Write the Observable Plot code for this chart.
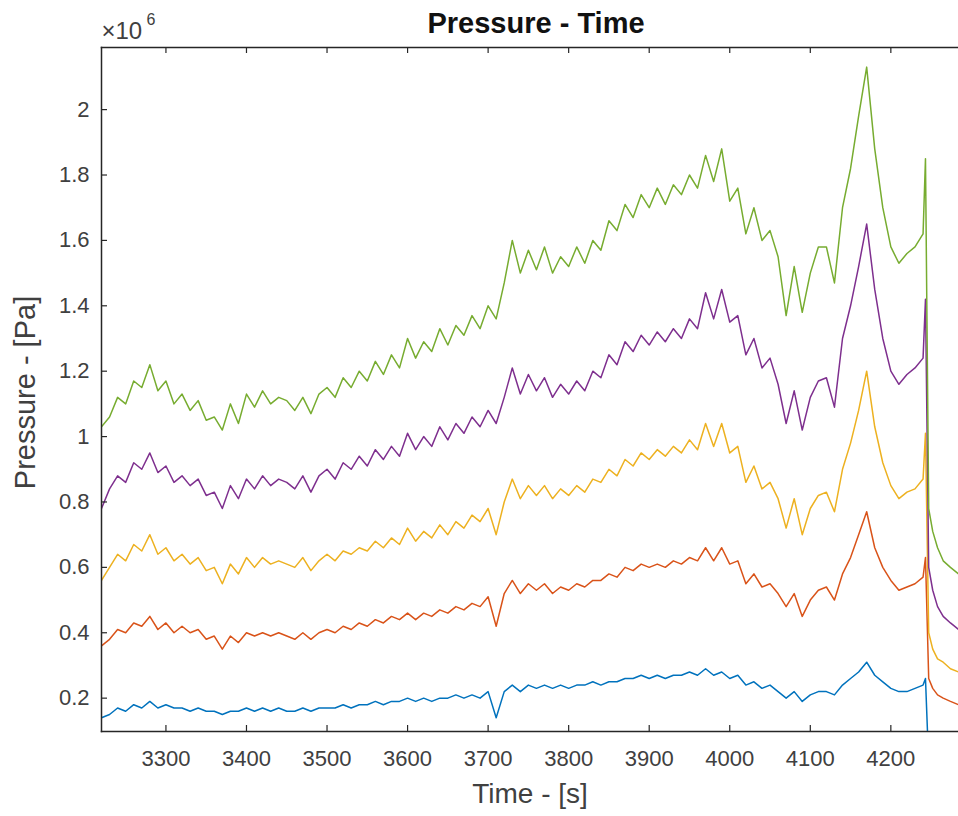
<!DOCTYPE html>
<html><head><meta charset="utf-8">
<script src="https://cdn.jsdelivr.net/npm/d3@7"></script>
<script src="https://cdn.jsdelivr.net/npm/@observablehq/plot@0.6"></script>
<style>html,body{margin:0;padding:0;background:#fff;} svg{display:block}</style>
</head><body><div id="chart"></div>
<script>
// time [s]
const time = [
 3220,3230,3240,3250,3260,3270,3280,3290,3300,3310,
 3320,3330,3340,3350,3360,3370,3380,3390,3400,3410,
 3420,3430,3440,3450,3460,3470,3480,3490,3500,3510,
 3520,3530,3540,3550,3560,3570,3580,3590,3600,3610,
 3620,3630,3640,3650,3660,3670,3680,3690,3700,3710,
 3720,3730,3740,3750,3760,3770,3780,3790,3800,3810,
 3820,3830,3840,3850,3860,3870,3880,3890,3900,3910,
 3920,3930,3940,3950,3960,3970,3980,3990,4000,4010,
 4020,4030,4040,4050,4060,4070,4080,4090,4100,4110,
 4120,4130,4140,4150,4160,4170,4180,4190,4200,4210,
 4220,4230,4240,
 4243,4247,4252,4258,4265,4274,4284
];
// pressure, x 10^6 Pa
const pBlue = [
 0.14,0.15,0.17,0.16,0.18,0.17,0.19,0.17,0.18,0.17,
 0.17,0.16,0.17,0.16,0.16,0.15,0.16,0.16,0.17,0.16,
 0.17,0.16,0.17,0.16,0.16,0.17,0.16,0.17,0.17,0.17,
 0.18,0.17,0.18,0.18,0.19,0.18,0.19,0.19,0.20,0.19,
 0.20,0.19,0.20,0.20,0.21,0.20,0.21,0.20,0.22,0.14,
 0.22,0.24,0.22,0.24,0.23,0.24,0.23,0.24,0.23,0.24,
 0.24,0.25,0.24,0.25,0.25,0.26,0.26,0.27,0.26,0.27,
 0.26,0.27,0.27,0.28,0.27,0.29,0.27,0.28,0.26,0.27,
 0.24,0.25,0.23,0.24,0.22,0.20,0.22,0.19,0.21,0.22,
 0.22,0.21,0.24,0.26,0.28,0.31,0.27,0.25,0.23,0.22,
 0.22,0.23,0.24,
 0.26,0.0,null,null,null,null,null
];
const pOrange = [
 0.36,0.38,0.41,0.40,0.43,0.42,0.45,0.41,0.43,0.40,
 0.42,0.40,0.41,0.38,0.39,0.35,0.39,0.37,0.40,0.39,
 0.40,0.39,0.40,0.39,0.38,0.40,0.38,0.40,0.41,0.40,
 0.42,0.41,0.43,0.42,0.44,0.43,0.45,0.44,0.46,0.44,
 0.46,0.45,0.47,0.46,0.48,0.47,0.49,0.48,0.51,0.42,
 0.52,0.56,0.52,0.55,0.53,0.55,0.52,0.54,0.53,0.55,
 0.54,0.56,0.56,0.58,0.57,0.60,0.59,0.61,0.60,0.61,
 0.60,0.62,0.61,0.63,0.62,0.66,0.62,0.66,0.61,0.62,
 0.55,0.58,0.54,0.55,0.52,0.48,0.52,0.45,0.50,0.53,
 0.54,0.50,0.58,0.63,0.70,0.77,0.66,0.60,0.56,0.53,
 0.54,0.55,0.57,
 0.63,0.26,0.23,0.21,0.20,0.19,0.18
];
const pYellow = [
 0.56,0.60,0.64,0.62,0.67,0.65,0.70,0.64,0.66,0.62,
 0.64,0.61,0.63,0.59,0.60,0.55,0.61,0.58,0.63,0.60,
 0.63,0.61,0.62,0.61,0.60,0.63,0.59,0.62,0.64,0.62,
 0.65,0.64,0.66,0.65,0.68,0.66,0.69,0.67,0.72,0.68,
 0.71,0.69,0.73,0.70,0.74,0.72,0.76,0.74,0.78,0.70,
 0.80,0.87,0.81,0.85,0.82,0.85,0.81,0.84,0.82,0.85,
 0.83,0.87,0.86,0.90,0.88,0.93,0.91,0.95,0.93,0.96,
 0.94,0.97,0.95,0.99,0.96,1.04,0.97,1.04,0.95,0.97,
 0.86,0.91,0.84,0.86,0.81,0.72,0.81,0.70,0.78,0.82,
 0.83,0.77,0.90,0.98,1.08,1.20,1.03,0.92,0.85,0.81,
 0.83,0.84,0.87,
 1.01,0.40,0.35,0.32,0.31,0.29,0.28
];
const pPurple = [
 0.78,0.84,0.88,0.86,0.92,0.90,0.95,0.89,0.91,0.86,
 0.88,0.85,0.87,0.82,0.83,0.78,0.85,0.81,0.87,0.84,
 0.88,0.85,0.87,0.86,0.84,0.88,0.83,0.88,0.90,0.87,
 0.92,0.90,0.94,0.91,0.96,0.93,0.97,0.94,1.01,0.96,
 1.00,0.97,1.03,0.99,1.04,1.01,1.06,1.03,1.08,1.04,
 1.12,1.21,1.13,1.19,1.14,1.18,1.12,1.16,1.13,1.17,
 1.14,1.20,1.18,1.25,1.22,1.29,1.26,1.31,1.28,1.32,
 1.29,1.33,1.30,1.36,1.33,1.44,1.36,1.45,1.35,1.37,
 1.25,1.30,1.21,1.24,1.16,1.04,1.14,1.02,1.12,1.17,
 1.18,1.09,1.30,1.40,1.52,1.65,1.45,1.30,1.20,1.16,
 1.19,1.21,1.24,
 1.42,0.60,0.53,0.48,0.45,0.43,0.41
];
const pGreen = [
 1.03,1.06,1.12,1.10,1.17,1.15,1.22,1.14,1.17,1.10,
 1.13,1.08,1.11,1.05,1.06,1.02,1.10,1.04,1.13,1.09,
 1.14,1.10,1.12,1.11,1.08,1.12,1.07,1.13,1.15,1.12,
 1.18,1.15,1.20,1.17,1.23,1.19,1.25,1.21,1.30,1.24,
 1.29,1.26,1.33,1.28,1.34,1.31,1.37,1.33,1.40,1.36,
 1.47,1.60,1.50,1.57,1.51,1.58,1.50,1.55,1.52,1.58,
 1.53,1.60,1.57,1.66,1.63,1.71,1.67,1.74,1.70,1.76,
 1.71,1.77,1.74,1.80,1.76,1.86,1.78,1.88,1.72,1.76,
 1.62,1.70,1.60,1.63,1.55,1.37,1.52,1.38,1.50,1.58,
 1.58,1.47,1.70,1.82,1.98,2.13,1.88,1.70,1.58,1.53,
 1.56,1.58,1.62,
 1.85,0.78,0.71,0.66,0.62,0.60,0.58
];
const seriesValues = [pBlue, pOrange, pYellow, pPurple, pGreen];
const seriesColors = ["#0072BD", "#D95319", "#EDB120", "#7E2F8E", "#77AC30"];

const xTicks = [3300, 3400, 3500, 3600, 3700, 3800, 3900, 4000, 4100, 4200];
const yTicks = [0.2, 0.4, 0.6, 0.8, 1, 1.2, 1.4, 1.6, 1.8, 2];
const xDomain = [3220, 4284];
const yDomain = [0.098, 2.19];
const titleText = "Pressure - Time";
const xLabel = "Time - [s]";
const yLabel = "Pressure - [Pa]";
const expBase = "×10";
const expPow = "6";

const rows = seriesValues.map((vals, k) => time.map((t, i) => ({t, v: vals[i], k})));

const W = 958, H = 816, mL = 101, mT = 47, mR = 0, mB = 85;
const plotH = H - mT - mB, plotW = W - mL - mR, tickLen = 6;
const ink = "#262626", textInk = "#404040";
const font = "'Liberation Sans', Arial, Helvetica, sans-serif";

const chart = Plot.plot({
  width: W, height: H,
  marginLeft: mL, marginTop: mT, marginRight: mR, marginBottom: mB,
  style: {fontFamily: font, background: "#fff", overflow: "visible"},
  x: {domain: xDomain, label: null},
  y: {domain: yDomain, label: null},
  marks: [
    ...rows.map((r, k) => Plot.line(r, {x: "t", y: "v", stroke: seriesColors[k], strokeWidth: 1.5, clip: true})),
    Plot.tickX(xTicks, {x: d => d, stroke: ink, strokeWidth: 1.2, insetTop: plotH - tickLen}),
    Plot.tickX(xTicks, {x: d => d, stroke: ink, strokeWidth: 1.2, insetBottom: plotH - tickLen}),
    Plot.tickY(yTicks, {y: d => d, stroke: ink, strokeWidth: 1.2, insetRight: plotW - tickLen}),
    Plot.axisX({ticks: xTicks, tickSize: 0, tickPadding: 19, fontSize: 22, fill: textInk, label: null, tickFormat: d => String(d)}),
    Plot.axisY({ticks: yTicks, tickSize: 0, tickPadding: 12, fontSize: 22, fill: textInk, label: null, tickFormat: d => String(d)}),
    Plot.frame({anchor: "left", stroke: ink, strokeWidth: 1.5}),
    Plot.frame({anchor: "top", stroke: ink, strokeWidth: 1.5}),
    Plot.frame({anchor: "bottom", stroke: ink, strokeWidth: 1.5}),
    Plot.text([titleText], {frameAnchor: "top", lineAnchor: "middle", dx: 6, dy: -24, fontSize: 29, fontWeight: "bold", fill: "#111"}),
    Plot.text([xLabel], {frameAnchor: "bottom", lineAnchor: "middle", dy: 63, fontSize: 28, fill: textInk}),
    Plot.text([yLabel], {frameAnchor: "left", lineAnchor: "middle", textAnchor: "middle", dx: -76, dy: 3, rotate: -90, fontSize: 29, fill: textInk}),
    Plot.text([expBase], {frameAnchor: "top-left", lineAnchor: "middle", dx: 0, dy: -16, textAnchor: "start", fontSize: 24, fill: textInk}),
    Plot.text([expPow], {frameAnchor: "top-left", lineAnchor: "middle", dx: 45, dy: -28, textAnchor: "start", fontSize: 16, fill: textInk})
  ]
});
document.getElementById("chart").appendChild(chart);
</script>
</body></html>
